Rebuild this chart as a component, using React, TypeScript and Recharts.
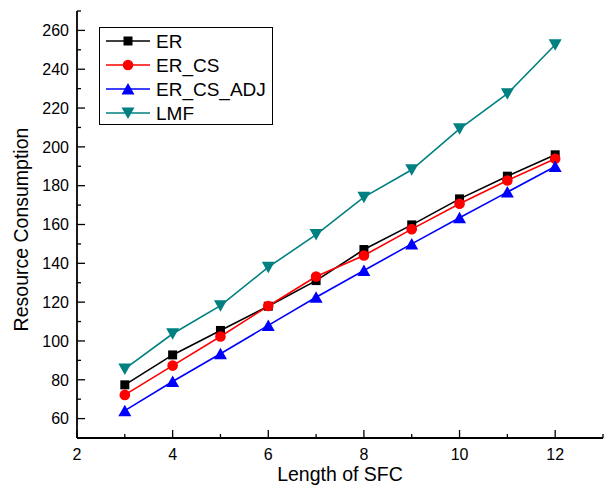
import React from 'react';
import { LineChart, Line, XAxis, YAxis, Legend } from 'recharts';

const lengths = [3, 4, 5, 6, 7, 8, 9, 10, 11, 12];
const er = [77.4, 92.8, 105.4, 117.9, 131.1, 147.1, 159.8, 173.2, 184.9, 195.9];
const erCs = [72.2, 87.3, 102.3, 118.0, 133.2, 144.0, 157.6, 170.7, 182.7, 193.9];
const erCsAdj = [64.1, 79.1, 93.4, 108.0, 122.5, 136.3, 150.0, 163.5, 176.7, 189.9];
const lmf = [85.6, 103.7, 118.2, 138.0, 154.8, 174.1, 188.2, 209.3, 227.4, 252.6];

const xTicks = [2, 3, 4, 5, 6, 7, 8, 9, 10, 11, 12, 13];
const yTicks = [50, 60, 70, 80, 90, 100, 110, 120, 130, 140, 150, 160, 170, 180, 190, 200, 210, 220, 230, 240, 250, 260, 270];
const yRightTicks = [60, 80, 100, 120, 140, 160, 180, 200, 220, 240, 260];

const FONT = "Arial, 'Liberation Sans', sans-serif";

type Shape = 'square' | 'circle' | 'up' | 'down';

const series: { key: string; name: string; color: string; shape: Shape }[] = [
  { key: 'er', name: 'ER', color: '#000000', shape: 'square' },
  { key: 'erCs', name: 'ER_CS', color: '#ff0000', shape: 'circle' },
  { key: 'erCsAdj', name: 'ER_CS_ADJ', color: '#0000ff', shape: 'up' },
  { key: 'lmf', name: 'LMF', color: '#008080', shape: 'down' },
];

const data = lengths.map((x, i) => ({
  x,
  er: er[i],
  erCs: erCs[i],
  erCsAdj: erCsAdj[i],
  lmf: lmf[i],
}));

const Marker = ({ shape, cx, cy, color }: { shape: Shape; cx: number; cy: number; color: string }) => {
  if (shape === 'square') {
    return <rect x={cx - 4.5} y={cy - 4.5} width={9} height={9} fill={color} />;
  }
  if (shape === 'circle') {
    return <circle cx={cx} cy={cy} r={5.3} fill={color} />;
  }
  if (shape === 'up') {
    return <polygon points={`${cx},${cy - 6} ${cx - 6.5},${cy + 5.5} ${cx + 6.5},${cy + 5.5}`} fill={color} />;
  }
  return <polygon points={`${cx},${cy + 6} ${cx - 6.5},${cy - 5.5} ${cx + 6.5},${cy - 5.5}`} fill={color} />;
};

const AXIS = { stroke: '#000', strokeWidth: 1.8 };

// ticks point inwards, Origin style; tickSize/tickMargin are 0 so x,y sit on the axis line
const LeftTick = (props: any) => {
  const { x, y, payload } = props;
  const major = payload.value % 20 === 0;
  return (
    <g>
      <line x1={x} x2={x + (major ? 8 : 4)} y1={y} y2={y} stroke="#000" strokeWidth={1.3} />
      {major && payload.value >= 60 && payload.value <= 260 && (
        <text x={x - 8} y={y} dy="0.36em" textAnchor="end" fontSize={16} fontFamily={FONT} fill="#000">
          {payload.value}
        </text>
      )}
    </g>
  );
};

const RightTick = (props: any) => {
  const { x, y } = props;
  return <line x1={x} x2={x - 7} y1={y} y2={y} stroke="#000" strokeWidth={1.3} />;
};

const BottomTick = (props: any) => {
  const { x, y, payload } = props;
  const major = payload.value % 2 === 0;
  return (
    <g>
      <line x1={x} x2={x} y1={y} y2={y - (major ? 8 : 4)} stroke="#000" strokeWidth={1.3} />
      {major && (
        <text x={x} y={y + 22} textAnchor="middle" fontSize={16} fontFamily={FONT} fill="#000">
          {payload.value}
        </text>
      )}
    </g>
  );
};

const TopTick = (props: any) => {
  const { x, y, payload } = props;
  const major = payload.value % 2 === 0;
  return <line x1={x} x2={x} y1={y} y2={y + (major ? 8 : 4)} stroke="#000" strokeWidth={1.3} />;
};

const LegendBox = () => (
  <svg width={174} height={98} style={{ display: 'block' }}>
    <rect x={0.5} y={0.5} width={173} height={97} fill="#fff" stroke="#000" strokeWidth={1} />
    {series.map((s, i) => {
      const cy = 14 + i * 24;
      return (
        <g key={s.key}>
          <line x1={7} x2={51} y1={cy} y2={cy} stroke={s.color} strokeWidth={1.6} />
          <Marker shape={s.shape} cx={29} cy={cy} color={s.color} />
          <text x={57} y={cy} dy="0.36em" fontSize={19} fontFamily={FONT} fill="#000">
            {s.name}
          </text>
        </g>
      );
    })}
  </svg>
);

export default function App() {
  return (
    <div style={{ position: 'absolute', left: 0, top: 0, width: 604, height: 485, background: '#fff' }}>
      <LineChart width={604} height={485} data={data} margin={{ top: 11, right: 1, bottom: 0, left: 0 }}>
        <XAxis
          xAxisId="bottom"
          dataKey="x"
          type="number"
          domain={[2, 13]}
          ticks={xTicks}
          interval={0}
          height={47}
          tickSize={0}
          tickMargin={0}
          tickLine={false}
          axisLine={AXIS}
          tick={BottomTick}
          label={{
            value: 'Length of SFC',
            position: 'insideBottom',
            offset: 4,
            style: { fontFamily: FONT, fontSize: 19.5, fill: '#000' },
          }}
        />
        <XAxis
          xAxisId="top"
          orientation="top"
          dataKey="x"
          type="number"
          domain={[2, 13]}
          ticks={xTicks}
          interval={0}
          height={0}
          tickSize={0}
          tickMargin={0}
          tickLine={false}
          axisLine={AXIS}
          tick={TopTick}
        />
        <YAxis
          yAxisId="left"
          type="number"
          domain={[50, 270]}
          ticks={yTicks}
          interval={0}
          width={77}
          tickSize={0}
          tickMargin={0}
          tickLine={false}
          axisLine={AXIS}
          tick={LeftTick}
          label={{
            value: 'Resource Consumption',
            angle: -90,
            position: 'insideLeft',
            offset: 21,
            dy: 5,
            style: { fontFamily: FONT, fontSize: 19.5, fill: '#000', textAnchor: 'middle' },
          }}
        />
        <YAxis
          yAxisId="right"
          orientation="right"
          type="number"
          domain={[50, 270]}
          ticks={yRightTicks}
          interval={0}
          width={0}
          tickSize={0}
          tickMargin={0}
          tickLine={false}
          axisLine={AXIS}
          tick={RightTick}
        />
        <Legend
          layout="horizontal"
          align="center"
          verticalAlign="middle"
          content={LegendBox}
          wrapperStyle={{ left: 99, top: 27, width: 174, height: 98 }}
        />
        {series.map((s) => (
          <Line
            key={s.key}
            xAxisId="bottom"
            yAxisId="left"
            dataKey={s.key}
            name={s.name}
            type="linear"
            stroke={s.color}
            strokeWidth={1.6}
            isAnimationActive={false}
            dot={(p: any) => (
              <Marker key={`${s.key}-${p.index}`} shape={s.shape} cx={p.cx} cy={p.cy} color={s.color} />
            )}
            activeDot={false}
          />
        ))}
      </LineChart>
    </div>
  );
}
